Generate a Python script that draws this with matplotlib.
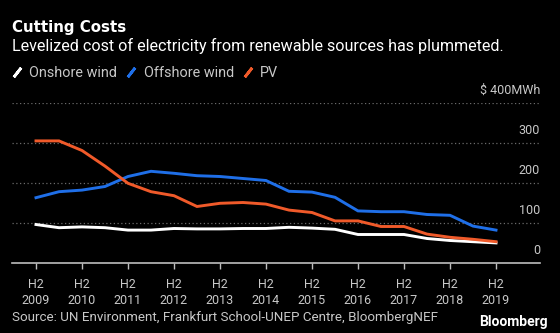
import numpy as np
import matplotlib.pyplot as plt
from matplotlib.lines import Line2D

plt.rcParams['font.family'] = ['Roboto', 'DejaVu Sans']

# half-year periods, H2 2009 .. H2 2019
periods = np.arange(21)
years = ['2009', '2010', '2011', '2012', '2013', '2014',
         '2015', '2016', '2017', '2018', '2019']

# $/MWh
onshore = [95, 87, 89, 87, 81, 81, 85, 84, 84, 85, 85,
           88, 86, 83, 70, 70, 70, 60, 55, 52, 49]
offshore = [162, 177, 181, 190, 215, 228, 223, 217, 215, 210, 205,
            178, 176, 163, 129, 127, 127, 120, 118, 91, 81]
pv = [304, 304, 280, 241, 198, 177, 167, 140, 148, 150, 146,
      131, 125, 104, 104, 90, 90, 71, 63, 58, 52]

white = '#ffffff'
blue = '#1f6fe8'
orange = '#f05a2a'
label_col = '#c8c8c8'

W, H = 560, 333
fig = plt.figure(figsize=(W / 100, H / 100), dpi=100, facecolor='black')
ax = fig.add_axes([12 / W, 70.5 / H, 528 / W, 160 / H])
ax.set_facecolor('black')

ax.plot(periods, onshore, color=white, lw=2.1, solid_joinstyle='miter')
ax.plot(periods, offshore, color=blue, lw=2.1, solid_joinstyle='miter')
ax.plot(periods, pv, color=orange, lw=2.1, solid_joinstyle='miter')

ax.set_xlim(-1.043, 21.913)
ax.set_ylim(0, 400)

for s in ['left', 'right', 'top']:
    ax.spines[s].set_visible(False)
ax.spines['bottom'].set_color('#bdbdbd')
ax.spines['bottom'].set_linewidth(1.2)

# dotted grid, value labels sit above each line on the right
ax.set_yticks([])
for v in [100, 200, 300, 400]:
    ax.axhline(v, color='#6a6a6a', lw=0.9, ls=(0, (1, 2)), zorder=0)

ylabels = ['0', '100', '200', '300', r'\$ 400MWh']
for v, lab in zip([0, 100, 200, 300, 400], ylabels):
    ax.text(1.0, v + 30, lab, transform=ax.get_yaxis_transform(),
            ha='right', va='center', color=label_col, fontsize=9)

ax.set_xticks(periods[::2])
ax.set_xticklabels(['H2\n' + y for y in years], color=label_col,
                   fontsize=9, linespacing=1.3)
ax.tick_params(axis='x', length=4, width=1, color='#bdbdbd', pad=7)

fig.text(12 / W, 1 - 32.3 / H, 'Cutting Costs', color='white',
         fontsize=10.8, fontweight='bold', va='baseline', ha='left',
         family='DejaVu Sans')
fig.text(12 / W, 1 - 50.7 / H,
         'Levelized cost of electricity from renewable sources has plummeted.',
         color='white', fontsize=11.6, va='baseline', ha='left')

handles = [Line2D([], [], color=c, marker=(2, 2, -38), ls='None',
                  markersize=8.5, markeredgewidth=2)
           for c in [white, blue, orange]]
leg = fig.legend(handles, ['Onshore wind', 'Offshore wind', 'PV'],
                 loc='center left', bbox_to_anchor=(10.75 / W, 1 - 73 / H),
                 ncol=3, frameon=False, fontsize=10.4, handlelength=0.8,
                 handletextpad=0.47, columnspacing=0.56, borderpad=0,
                 borderaxespad=0)
for t in leg.get_texts():
    t.set_color(label_col)

fig.text(12 / W, 1 - 321 / H,
         'Source: UN Environment, Frankfurt School-UNEP Centre, BloombergNEF',
         color=label_col, fontsize=9.6, va='baseline', ha='left')
fig.text(548 / W, 1 - 326 / H, 'Bloomberg', color='white',
         fontsize=10, fontweight='bold', va='baseline', ha='right')

fig.savefig('out.png', dpi=100, facecolor='black')
